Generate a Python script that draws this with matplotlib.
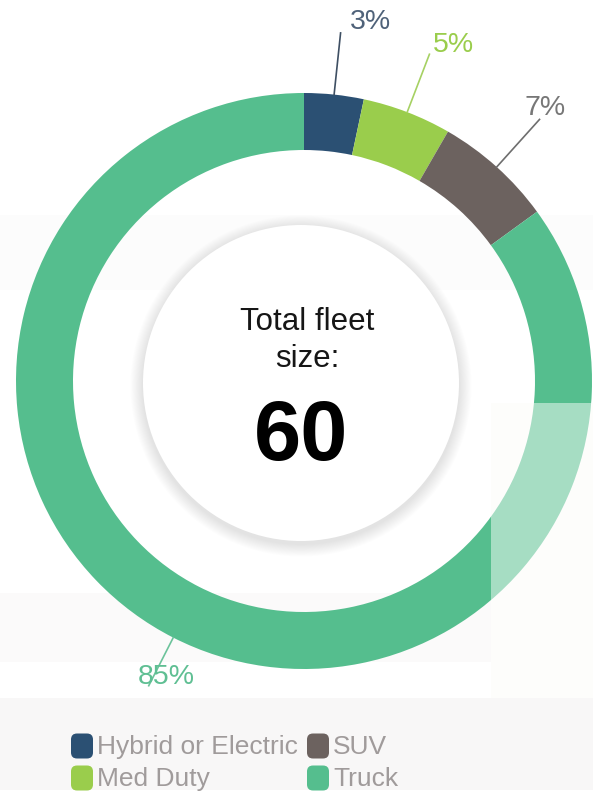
import numpy as np
import matplotlib
matplotlib.use("Agg")
import matplotlib.pyplot as plt
from matplotlib.patches import Circle, Rectangle, FancyBboxPatch

# ---- data ----
categories = ["Hybrid or Electric", "Med Duty", "SUV", "Truck"]
counts = [2, 3, 4, 51]
pct_labels = ["3%", "5%", "7%", "85%"]
total_label = "60"

# ---- style ----
colors = ["#2b5073", "#9acd4c", "#6c625f", "#55be8e"]
label_colors = ["#4f6279", "#9acd4c", "#777777", "#5fbf93"]
line_colors = ["#3e4f63", "#a6d163", "#6e6e6e", "#6cc39b"]
label_r = [365, 368, 364, 327]
label_dtheta = [-4.5, -3.0, 0.5, 2.0]
line_r_end = [350, 350, 352, 342]

W, H = 593, 794
fig = plt.figure(figsize=(W / 100, H / 100), dpi=100)
fig.patch.set_facecolor("white")
ax = fig.add_axes([0, 0, 1, 1])

cx, cy = 304, H - 381
R, ring_w = 288, 57

# background faint bands (screenshot artefacts)
ax.add_patch(Rectangle((0, H - 290), 593, 75, color="#fcfcfc", zorder=0, lw=0))
ax.add_patch(Rectangle((0, H - 662), 491, 69, color="#fbfafa", zorder=0, lw=0))
ax.add_patch(Rectangle((491, H - 698), 102, 295, color="#fdfcf9", zorder=0, lw=0))
ax.add_patch(Rectangle((0, H - 790), 593, 92, color="#f8f7f7", zorder=0, lw=0))

wedges, _ = ax.pie(counts, colors=colors, startangle=90, counterclock=False,
                   radius=R, center=(cx, cy),
                   wedgeprops=dict(width=ring_w, linewidth=0, antialiased=True))
for w in wedges:
    w.set_zorder(2)

# lightened overlay at right-bottom
ax.add_patch(Rectangle((491, H - 698), 102, 295, facecolor="white", alpha=0.48,
                       zorder=3, lw=0))

# leader lines and labels
for i, w in enumerate(wedges):
    mid = np.deg2rad((w.theta1 + w.theta2) / 2)
    x0, y0 = cx + R * np.cos(mid), cy + R * np.sin(mid)
    x1, y1 = cx + line_r_end[i] * np.cos(mid), cy + line_r_end[i] * np.sin(mid)
    ax.plot([x0, x1], [y0, y1], color=line_colors[i], lw=1.2, zorder=4)
    ang = mid + np.deg2rad(label_dtheta[i])
    tx, ty = cx + label_r[i] * np.cos(ang), cy + label_r[i] * np.sin(ang)
    ax.text(tx, ty, pct_labels[i], color=label_colors[i], fontsize=20.5,
            family="Liberation Sans", ha="center", va="center", zorder=5)

# inner circle with soft shadow
icx, icy, ir = 301, H - 383, 158
for k in range(14):
    ax.add_patch(Circle((icx, icy - 3), ir + 0.9 * (14 - k), facecolor="#000000",
                        alpha=0.008, lw=0, zorder=4))
ax.add_patch(Circle((icx, icy), ir, facecolor="white", lw=0, zorder=5))

ax.text(icx + 6, H - 330, "Total fleet", ha="center", va="baseline",
        fontsize=22.5, family="Liberation Sans", color="#161616", zorder=6)
ax.text(icx + 6, H - 367, "size:", ha="center", va="baseline",
        fontsize=22.5, family="Liberation Sans", color="#161616", zorder=6)
ax.text(icx, H - 460, total_label, ha="center", va="baseline",
        fontsize=61, fontweight="bold", family="Liberation Sans",
        color="#000000", zorder=6)

# legend (2 columns)
leg_x = [82, 318]
leg_y = [H - 746, H - 778]
for i, name in enumerate(categories):
    col = 0 if i in (0, 1) else 1
    row = 0 if i in (0, 2) else 1
    mx, my = leg_x[col], leg_y[row]
    ax.add_patch(FancyBboxPatch((mx - 11, my - 12.5), 22, 25,
                                boxstyle="round,pad=0,rounding_size=6",
                                facecolor=colors[i], lw=0, zorder=6))
    ax.text(mx + 15, my - 1, name, ha="left", va="center", fontsize=19,
            family="Liberation Sans", color="#a09b9b", zorder=6)

ax.set_xlim(0, W)
ax.set_ylim(0, H)
ax.set_aspect("auto")
ax.axis("off")
fig.savefig("out.png", dpi=100, facecolor="white")
